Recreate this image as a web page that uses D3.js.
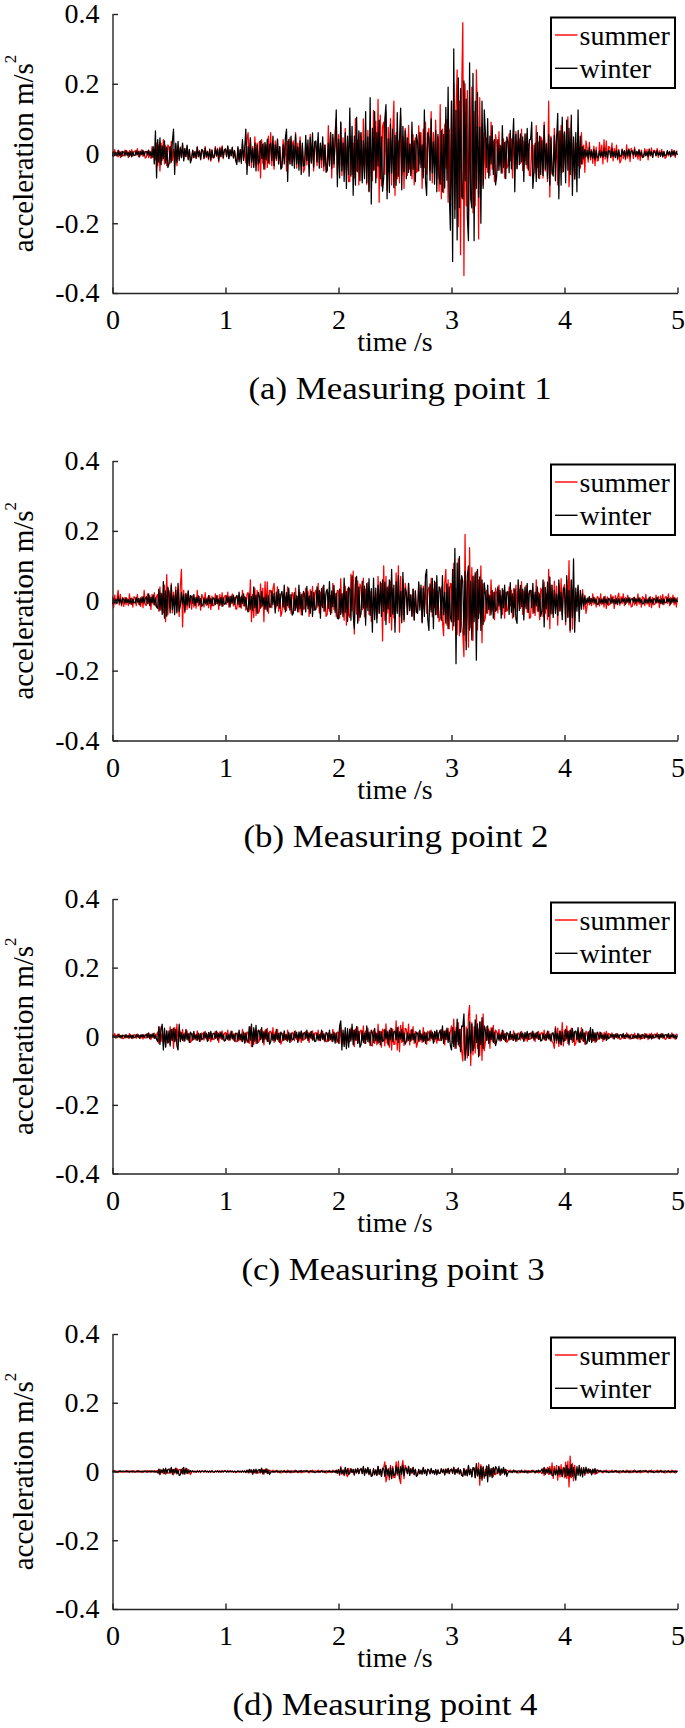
<!DOCTYPE html>
<html><head><meta charset="utf-8">
<script src="https://cdn.jsdelivr.net/npm/d3@7"></script>
<style>html,body{margin:0;padding:0;background:#fff;}svg{display:block;font-family:"Liberation Serif","Times New Roman",serif;}</style>
</head><body><svg id="c" width="685" height="1728"></svg>
<script>
// ---- data ----
const sampleStep = 0.01; // s
const xTicks = [0,1,2,3,4,5];
const xTickLabels = ["0","1","2","3","4","5"];
const yTicks = [-0.4,-0.2,0,0.2,0.4];
const yTickLabels = ["-0.4","-0.2","0","0.2","0.4"];
const seriesNames = ["summer","winter"];
const panelTitles = ["(a) Measuring point 1","(b) Measuring point 2","(c) Measuring point 3","(d) Measuring point 4"];

const summer1 = [
.005,-.008,.011,-.006,.004,-.010,.007,-.012,.006,-.007,
-.006,.010,-.004,.007,-.012,.008,-.005,.011,-.007,.006,
.008,-.005,.014,-.010,.007,-.004,.011,-.008,.006,-.013,
-.010,.007,-.012,.006,-.014,.020,-.010,.012,-.018,.030,
-.035,.025,-.050,.030,-.020,.040,-.030,.022,-.035,.025,
.018,-.028,.035,-.020,.012,-.030,.025,-.035,.020,-.015,
.015,-.010,.025,-.018,.012,-.008,.020,-.015,.010,-.022,
-.016,.010,-.012,.006,-.014,.020,-.010,.008,-.018,.012,
.009,-.015,.020,-.011,.007,-.018,.013,-.022,.011,-.013,
-.012,.020,-.008,.015,-.025,.018,-.010,.022,-.015,.012,
.012,-.008,.020,-.014,.010,-.006,.016,-.012,.008,-.018,
-.024,.015,-.018,.009,-.021,.030,-.015,.012,-.027,.040,
.060,-.030,.045,-.040,.020,-.035,.048,-.025,.030,-.050,
.035,-.070,.040,-.028,.030,-.045,.025,-.040,.050,-.030,
.060,-.035,.025,-.045,.036,-.020,.042,-.030,.020,-.038,
-.025,.040,-.015,.030,-.050,.035,-.020,.045,-.030,.025,
.036,-.024,.060,-.042,.030,-.018,.048,-.036,.024,-.054,
-.044,.028,-.033,.017,-.039,.055,-.028,.022,-.050,.033,
.020,-.035,.045,-.025,.015,-.040,.030,-.050,.025,-.030,
-.050,.080,-.030,.060,-.070,.045,-.040,.065,.100,-.060,
.054,-.036,.090,-.063,.045,-.027,.072,-.054,.036,-.081,
-.080,.050,-.060,.030,-.070,.100,-.050,.040,-.090,.060,
.044,-.077,.099,-.055,.033,-.088,.066,-.110,.055,-.066,
-.078,.124,-.047,.093,-.070,.155,-.140,.110,-.093,.078,
.090,-.060,.120,-.105,.075,-.045,.100,-.090,.060,.150,
-.120,.060,-.072,.036,-.084,.110,-.060,.048,-.100,.072,
.036,-.063,.081,-.045,.027,-.072,.054,-.090,.045,-.054,
-.050,.080,-.030,.060,-.100,.070,-.040,.090,-.060,.050,
.072,-.048,.120,-.084,.060,-.036,.096,-.072,.048,-.108,
.140,-.130,.070,-.112,.084,-.042,.098,-.140,.070,-.110,
.150,-.120,.200,-.160,.130,.240,-.210,.150,-.290,.180,
.375,-.350,.200,-.150,.180,-.220,.160,-.120,.190,-.170,
.120,-.150,.240,.100,-.245,.160,-.100,.080,-.090,.060,
-.072,.045,-.054,.027,-.063,.090,-.045,.036,-.081,.054,
.028,-.049,.063,-.035,.021,-.056,.042,-.070,.035,-.042,
-.035,.056,-.021,.042,-.070,.049,-.028,.063,-.042,.035,
.042,-.028,.070,-.049,.035,-.021,.056,-.042,.028,-.063,
-.064,.040,-.048,.024,-.056,.080,-.040,.032,-.072,.048,
.040,-.070,.090,-.050,.030,-.080,.150,-.125,.050,-.060,
-.045,.072,-.027,.054,-.090,.063,-.036,.081,-.054,.045,
.063,-.042,.060,.105,-.095,-.032,.084,-.063,.042,-.074,
-.048,.030,-.036,.018,-.042,.060,-.030,.024,-.054,.036,
.014,-.025,.032,-.018,.011,-.028,.021,-.035,.018,-.021,
-.020,.032,-.012,.024,-.030,.040,-.016,.036,-.024,.020,
.018,-.012,.030,-.021,.015,-.009,.024,-.018,.012,-.027,
-.020,.013,-.015,.008,-.018,.025,-.013,.010,-.023,.015,
.008,-.014,.018,-.010,.006,-.016,.012,-.020,.010,-.012,
-.009,.014,-.005,.011,-.018,.013,-.007,.016,-.011,.009,
.009,-.006,.015,-.011,.008,-.005,.012,-.009,.006,-.014,
-.010,.006,-.007,.004,-.008,.012,-.006,.005,-.011,.007,
.006];
const winter1 = [
-.008,.005,-.006,.003,-.007,.010,-.005,.004,-.009,.006,
.004,-.007,.009,-.005,.003,-.008,.006,-.010,.005,-.006,
-.005,.008,-.003,.006,-.010,.007,-.004,.009,-.006,.005,
.006,-.004,.010,-.007,.005,-.012,.020,-.030,.065,-.070,
.040,-.025,.045,-.032,.022,-.015,.036,-.027,.018,-.040,
-.030,.020,-.025,.035,.070,-.060,.030,-.025,.035,-.020,
.018,-.012,.030,-.021,.015,-.009,.024,-.018,.012,-.027,
-.014,.009,-.011,.005,-.013,.018,-.009,.007,-.016,.011,
.007,-.013,.016,-.009,.005,-.014,.011,-.018,.009,-.011,
-.010,.016,-.006,.012,-.020,.014,-.008,.018,-.012,.010,
.013,-.009,.022,-.015,.011,-.007,.018,-.013,.009,-.020,
-.032,.020,-.024,.012,-.028,.040,-.020,.016,.070,-.060,
.020,-.035,.045,-.025,.015,-.040,.030,-.050,.025,-.030,
-.023,.036,-.014,.027,-.045,.032,-.018,.041,-.027,.023,
.030,-.020,.050,-.035,.025,-.015,.040,-.030,.020,-.045,
-.040,.025,-.030,.045,.070,-.080,.040,-.030,.050,-.035,
.024,-.042,.054,-.030,.018,-.048,.036,-.060,.030,-.036,
-.033,.052,-.020,.039,-.065,.046,-.026,.059,-.039,.033,
.036,-.024,.060,-.042,.030,-.018,.048,-.036,.024,-.054,
-.048,.030,-.036,.060,-.042,.055,-.030,.024,.125,-.095,
.040,-.070,.090,-.050,.030,-.080,.060,-.100,.050,-.060,
.130,-.065,.078,-.120,.050,-.091,.104,-.052,.065,-.078,
.060,-.084,.036,-.072,.120,-.084,.048,-.108,.160,-.145,
.072,-.048,.120,-.084,.060,-.036,.096,-.072,.048,-.108,
-.070,.098,.140,-.130,.042,-.112,.084,-.056,.070,-.098,
.052,-.091,.117,-.065,.039,.130,-.104,.078,-.052,.065,
-.072,.045,-.054,.027,-.063,.090,-.045,.036,-.081,.054,
.030,-.050,.060,-.040,.025,-.070,.125,-.080,-.120,.060,
.044,-.077,.099,-.055,.033,-.088,.066,-.110,.055,-.066,
-.088,.066,-.110,.055,-.099,.132,-.077,.190,-.110,-.220,
.150,-.310,.300,-.186,.124,-.248,.217,-.155,.186,-.124,
-.130,.208,-.078,.156,-.182,-.250,.260,-.130,-.156,.230,
-.250,.150,-.100,.175,-.125,.075,-.200,.150,-.100,.125,
.060,-.040,.100,-.070,.050,-.030,.080,-.060,.040,-.090,
-.064,.040,-.048,.024,-.056,.080,-.040,.032,-.072,.048,
.033,-.055,.066,-.044,.028,.100,-.110,.055,-.044,.066,
-.032,.056,-.024,.048,-.080,.056,-.032,.072,-.048,.040,
.040,.090,-.100,-.050,.030,-.080,.060,-.070,.050,-.060,
.036,-.063,.081,-.045,.027,-.072,.054,-.090,.045,-.054,
-.065,.052,-.078,.039,.115,-.130,.065,-.091,.104,-.052,
.060,-.084,.096,-.048,.072,-.060,.110,-.120,.048,-.072,
.060,-.110,.125,-.070,.050,-.030,.020,-.015,.012,-.010,
.009,-.015,.018,-.011,.007,-.014,.012,-.018,.008,-.012,
-.012,.008,-.009,.005,-.011,.015,-.008,.006,-.013,.009,
.006,-.011,.014,-.008,.005,-.012,.009,-.015,.008,-.009,
-.007,.011,-.004,.008,-.014,.010,-.006,.013,-.008,.007,
.007,-.005,.012,-.008,.006,-.004,.010,-.007,.005,-.011,
-.010,.006,-.007,.004,-.008,.012,-.006,.005,-.011,.007,
.004,-.007,.009,-.005,.003,-.008,.006,-.010,.005,-.006,
-.005,.008,-.003,.006,-.010,.007,-.004,.009,-.006,.005,
-.004];

const summer2 = [
.012,-.020,.016,-.010,.008,.030,-.012,.018,-.015,.010,
-.016,.010,-.012,.006,-.014,.020,-.010,.008,-.018,.012,
.008,-.014,.018,-.010,.006,-.016,.012,-.020,.030,-.012,
-.013,.020,-.008,.015,-.025,.018,-.010,.023,-.015,.013,
.018,-.030,.040,-.025,.020,-.035,.045,-.060,.075,-.040,
.030,-.020,.050,-.035,.025,-.015,.040,-.030,.020,-.045,
.040,.090,-.075,.030,-.035,.018,-.025,.030,-.020,.015,
-.024,.015,-.018,.009,-.021,.030,-.015,.012,-.027,.018,
.010,-.018,.023,-.013,.008,-.020,.015,-.025,.013,-.015,
-.013,.020,-.008,.015,-.025,.018,-.010,.023,-.015,.013,
.015,-.010,.025,-.018,.013,-.008,.020,-.015,.010,-.023,
-.024,.015,-.018,.009,-.021,.030,-.015,.012,-.027,.018,
.024,-.030,.060,-.060,.018,-.048,.036,-.042,.030,-.036,
-.030,.048,-.018,.036,-.060,.055,-.024,.054,-.036,.030,
.030,-.020,.035,.050,-.025,-.015,.040,-.030,.020,-.045,
-.032,.020,-.024,.012,-.028,.040,-.020,.016,-.036,.024,
.016,-.028,.036,-.020,.012,-.032,.024,-.040,.020,-.024,
-.023,.036,-.014,.027,-.045,.032,-.018,.041,-.027,.023,
.030,-.020,.050,-.035,.025,-.015,.040,-.030,.020,-.045,
-.040,.025,-.030,.015,-.035,.050,-.025,.020,-.045,.030,
.028,-.049,.063,-.035,.021,-.056,.042,-.070,.035,-.042,
-.048,.076,-.029,.085,-.095,.067,-.038,.057,-.057,.048,
.039,-.026,.065,-.046,.033,-.020,.052,-.039,.026,-.059,
-.056,.035,-.042,.021,-.049,.070,-.035,.028,.050,-.115,
.100,-.056,.070,-.035,.042,-.063,.056,-.084,.035,-.049,
-.050,.080,-.030,.100,-.090,.070,-.040,.060,-.060,.050,
.022,-.039,.050,-.028,.017,-.044,.033,-.055,.028,-.033,
-.030,.048,-.018,.036,-.060,.042,-.024,.054,-.036,.030,
.039,-.026,.065,-.046,.033,-.020,.052,-.039,.026,-.059,
-.050,.040,-.060,-.100,.050,.090,-.070,.060,-.080,.050,
.048,-.084,.108,-.060,.036,-.096,.120,-.100,.060,-.072,
-.095,-.160,.190,-.114,.057,-.133,.152,-.076,.095,-.114,
.072,-.048,.084,-.084,.060,-.036,.100,-.120,.048,-.060,
-.048,.030,-.036,.018,-.042,.060,-.030,.024,-.054,.036,
.020,-.035,.045,-.025,.015,-.040,.030,-.050,.025,-.030,
-.025,.040,-.015,.030,-.050,.035,-.020,.045,-.030,.025,
.033,-.022,.055,-.039,.028,-.017,.044,-.033,.022,-.050,
-.048,.030,-.036,.018,-.042,.060,-.030,.024,-.054,.036,
.027,-.045,.054,-.036,.018,-.054,.090,-.080,.045,-.036,
-.035,.056,-.021,.042,-.070,.049,-.028,.063,-.042,.035,
.046,-.069,.058,-.046,.115,-.090,.058,-.081,.035,-.058,
.024,-.016,.040,-.028,.020,-.012,.032,-.024,.016,-.036,
-.016,.010,-.012,.006,-.014,.020,-.010,.008,-.018,.012,
.009,-.015,.020,-.011,.007,-.018,.013,-.022,.011,-.013,
-.011,.018,-.007,.013,-.022,.015,-.009,.010,.022,-.013,
.012,-.008,.020,-.014,.010,-.006,.016,-.012,.008,-.018,
-.016,.010,-.012,.006,-.014,.020,-.010,.008,-.018,.012,
.008,-.014,.018,-.010,.006,-.016,.012,-.020,.010,-.012,
-.010,.016,-.006,.012,-.020,.014,-.008,.018,-.012,.010,
.012,-.008,.020,-.014,.010,-.006,.016,-.012,.008,-.018,
.010];
const winter2 = [
-.010,.006,-.007,.004,-.008,.012,-.006,.005,-.011,.007,
.004,-.007,.009,-.005,.003,-.008,.006,-.010,.005,-.006,
-.006,.010,-.004,.007,-.012,.008,-.005,.011,-.007,.006,
.012,-.008,.020,-.014,.010,-.006,.016,-.012,.008,-.018,
-.022,.033,-.028,.022,-.039,.055,-.050,.028,-.044,.039,
.020,-.035,.045,-.025,.015,-.040,.030,-.035,.050,-.030,
-.015,.024,-.009,.018,-.030,.021,-.012,.027,-.018,.015,
.011,-.007,.018,-.013,.009,-.005,.014,-.011,.007,-.016,
-.012,.008,-.009,.005,-.011,.015,-.008,.006,-.014,.009,
.006,-.011,.014,-.008,.005,-.013,.010,-.016,.008,-.010,
-.009,.014,-.005,.011,-.018,.013,-.007,.016,-.011,.009,
.015,-.010,.025,-.018,.013,-.008,.020,-.015,.010,-.023,
-.032,.020,-.024,.012,-.028,.040,-.020,.016,-.036,.024,
.012,-.021,.027,-.015,.009,-.024,.018,-.030,.015,-.018,
-.018,.028,-.011,.021,-.035,.025,-.014,.032,-.021,.018,
.027,-.018,.045,-.032,.023,-.014,.036,-.027,.018,-.041,
-.036,.023,-.027,.014,-.032,.045,-.023,.018,-.041,.027,
.018,-.032,.041,-.023,.014,-.036,.027,-.045,.023,-.027,
-.025,.040,-.015,.030,-.050,.035,-.020,.045,-.030,.025,
.033,-.022,.055,-.039,.028,-.017,.044,-.033,.022,-.050,
-.052,.033,-.039,.020,-.046,.065,-.033,.026,-.059,.039,
.032,-.056,.072,-.040,-.080,.048,.070,-.064,.040,-.048,
-.035,.056,-.021,.042,-.070,.049,-.028,.063,-.042,.035,
-.090,.065,-.054,.036,-.063,.045,-.036,.054,-.045,.060,
-.030,.053,-.068,.038,-.023,.060,-.045,.090,-.038,.045,
-.090,.054,-.036,.072,-.045,.027,-.063,.081,-.054,.036,
.022,-.039,.050,-.028,.017,-.044,.033,-.055,.028,-.033,
-.036,.054,-.027,.045,-.063,.036,-.045,.072,.090,-.054,
-.085,.048,-.032,.064,-.080,.056,-.040,.072,-.048,.040,
.032,-.056,.072,-.040,.024,-.064,.048,-.080,.040,-.048,
-.060,.090,-.072,.150,-.180,.108,-.054,.126,-.090,.072,
.056,-.098,.084,-.140,.070,.100,-.084,.056,-.112,.070,
-.060,.080,-.170,.090,-.051,.068,-.085,.060,-.068,.051,
.020,-.035,.045,-.025,.015,-.040,.030,-.050,.025,-.030,
-.025,.040,-.015,.030,-.050,.035,-.020,.045,-.030,.025,
.026,-.039,.052,-.033,.020,-.046,.033,-.052,-.065,.060,
-.028,.044,-.017,.033,-.055,.039,-.022,.050,-.033,.028,
.030,-.020,.050,-.035,.025,-.015,.040,-.030,.020,-.045,
-.030,.060,-.075,.038,-.023,.053,-.045,.068,-.038,.045,
-.048,.030,-.036,.018,-.042,.060,-.030,.024,-.054,.036,
.036,-.060,.072,-.048,.030,-.084,.060,-.048,.120,-.090,
.036,-.030,.045,-.060,.030,-.024,.020,-.015,.012,-.010,
.007,-.005,.012,-.008,.006,-.004,.010,-.007,.005,-.011,
-.010,.006,-.007,.004,-.008,.012,-.006,.005,-.011,.007,
.004,-.008,.010,-.006,.003,-.009,.007,-.011,.006,-.007,
-.005,.008,-.003,.006,-.010,.007,-.004,.009,-.006,.005,
.006,-.004,.010,-.007,.005,-.003,.008,-.006,.004,-.009,
-.008,.005,-.006,.003,-.007,.010,-.005,.004,-.009,.006,
.004,-.007,.009,-.005,.003,-.008,.006,-.010,.005,-.006,
-.005,.008,-.003,.006,-.010,.007,-.004,.009,-.006,.005,
-.004];

const summer3 = [
.005,-.003,.008,-.006,.004,-.002,.006,-.005,.003,-.007,
-.006,.004,-.005,.002,-.006,.008,-.004,.003,-.007,.005,
.003,-.006,.007,-.004,.002,-.006,.005,-.008,.004,-.005,
-.005,.008,-.003,.006,-.010,.007,-.004,.009,-.006,.005,
.012,-.021,.027,-.015,.009,-.024,.018,-.030,.015,-.018,
-.018,.028,-.011,.021,-.035,.025,-.014,.035,-.021,.018,
.012,-.008,.020,-.014,.010,-.006,.016,-.012,.008,-.018,
-.013,.008,-.010,.005,-.011,.016,-.008,.006,-.014,.010,
.006,-.011,.014,-.008,.005,-.013,.010,-.016,.008,-.010,
-.009,.014,-.005,.011,-.018,.013,-.007,.016,-.011,.009,
.011,-.007,.018,-.013,.009,-.005,.014,-.011,.007,-.016,
-.016,.010,-.012,.006,-.014,.020,-.010,.008,-.018,.012,
.012,-.021,.027,-.030,.009,-.024,.018,-.021,.015,-.018,
-.013,.020,-.008,.015,-.025,.018,-.010,.023,-.015,.013,
.015,-.010,.025,-.018,.013,-.008,.020,-.015,.010,-.023,
-.014,.009,-.011,.005,-.013,.018,-.009,.007,-.016,.011,
.007,-.013,.016,-.009,.005,-.014,.011,-.018,.009,-.011,
-.009,.014,-.005,.011,-.018,.013,-.007,.016,-.011,.009,
.011,-.007,.018,-.013,.009,-.005,.014,-.011,.007,-.016,
-.016,.010,-.012,.006,-.014,.020,-.010,.008,-.018,.012,
.012,-.021,.027,-.015,.009,-.024,.018,-.030,.015,-.018,
-.015,.024,-.009,.018,-.030,.021,-.012,.027,-.018,.015,
.018,-.012,.030,-.021,.015,-.009,.024,-.018,.012,-.027,
-.028,.018,-.021,.011,-.025,.035,-.018,.014,-.032,.021,
.016,-.028,.036,-.020,.012,-.032,.024,-.040,.020,-.024,
-.023,.045,-.040,.027,-.045,.032,-.018,.041,-.027,.023,
.021,-.014,.035,-.025,.018,-.011,.028,-.021,.014,-.032,
-.020,.013,-.015,.008,-.018,.025,-.013,.010,-.023,.015,
.008,-.014,.018,-.010,.006,-.016,.012,-.020,.010,-.012,
-.013,.020,-.008,.015,-.025,.018,-.010,.023,-.015,.013,
.030,-.020,.050,-.035,.025,-.015,.040,-.030,.020,-.045,
-.072,.045,-.054,.027,-.063,.060,.090,-.085,.040,-.054,
.028,-.049,.063,-.035,.021,-.056,.042,-.070,.065,-.042,
-.018,.028,-.011,.021,-.035,.025,-.014,.032,-.021,.018,
.012,-.008,.020,-.014,.010,-.006,.016,-.012,.008,-.018,
-.013,.008,-.010,.005,-.011,.016,-.008,.006,-.014,.010,
.006,-.011,.014,-.008,.005,-.012,.009,-.015,.008,-.009,
-.008,.012,-.005,.009,-.015,.011,-.006,.014,-.009,.008,
.011,-.007,.018,-.013,.009,-.005,.014,-.011,.007,-.016,
-.020,-.035,.028,-.020,.024,-.030,.016,-.024,.040,-.028,
.018,-.012,.030,-.021,.015,-.009,.024,-.018,.012,-.027,
-.020,.013,-.015,.008,-.018,.025,-.013,.010,-.023,.015,
.007,-.013,.016,-.009,.005,-.014,.011,-.018,.009,-.011,
-.008,.012,-.005,.009,-.015,.011,-.006,.014,-.009,.008,
.006,-.004,.010,-.007,.005,-.003,.008,-.006,.004,-.009,
-.008,.005,-.006,.003,-.007,.010,-.005,.004,-.009,.006,
.004,-.007,.009,-.005,.003,-.008,.006,-.010,.005,-.006,
-.005,.008,-.003,.006,-.010,.007,-.004,.009,-.006,.005,
.006,-.004,.010,-.007,.005,-.003,.008,-.006,.004,-.009,
-.008,.005,-.006,.003,-.007,.010,-.005,.004,-.009,.006,
.004];
const winter3 = [
-.004,.002,-.003,.001,-.004,.006,-.003,.002,-.005,.003,
.002,-.004,.005,-.003,.002,-.005,.004,-.006,.003,-.004,
-.003,.005,-.002,.004,-.006,.004,-.002,.005,-.004,.003,
.006,-.004,.010,-.007,.005,-.003,.008,-.006,.004,-.009,
-.016,.028,-.024,.020,.035,-.040,.024,-.032,.016,-.020,
.016,-.028,.020,-.012,.024,-.016,.020,-.028,-.040,.035,
-.016,.010,-.012,.006,-.014,.020,-.010,.008,-.018,.012,
.006,-.011,.014,-.008,.005,-.012,.009,-.015,.008,-.009,
-.008,.012,-.005,.009,-.015,.011,-.006,.014,-.009,.008,
.009,-.006,.015,-.011,.008,-.005,.012,-.009,.006,-.014,
-.012,.008,-.009,.005,-.011,.015,-.008,.006,-.014,.009,
.008,-.014,.018,-.010,.006,-.016,.012,-.020,.010,-.012,
-.018,.028,-.011,.035,-.030,.025,-.014,.032,-.021,.018,
.015,-.010,.025,-.018,.013,-.008,.020,-.015,.010,-.023,
-.016,.010,-.012,.006,-.014,.020,-.010,.008,-.018,.012,
.007,-.013,.016,-.009,.005,-.014,.011,-.018,.009,-.011,
-.009,.014,-.005,.011,-.018,.013,-.007,.016,-.011,.009,
.011,-.007,.018,-.013,.009,-.005,.014,-.011,.007,-.016,
-.014,.009,-.011,.005,-.013,.018,-.009,.007,-.016,.011,
.008,-.014,.018,-.010,.006,-.016,.012,-.020,.010,-.012,
-.020,.030,.045,-.040,.018,-.030,.025,-.036,.022,-.032,
.021,-.014,.035,-.025,.018,-.011,.028,-.021,.014,-.032,
-.024,.015,-.018,.009,-.021,.030,-.015,.012,-.027,.018,
.010,-.018,.023,-.013,.008,-.020,.015,-.025,.013,-.015,
-.013,.020,-.008,.015,-.025,.018,-.010,.023,-.015,.013,
.015,-.010,.025,-.018,.013,-.008,.020,-.015,.010,-.023,
-.016,.010,-.012,.006,-.014,.020,-.010,.008,-.018,.012,
.008,-.014,.018,-.010,.006,-.016,.012,-.020,.010,-.012,
-.010,.016,-.006,.012,-.020,.014,-.008,.018,-.012,.010,
.018,-.012,.030,-.021,.015,-.009,.024,-.018,.012,-.027,
-.040,.025,-.030,.015,-.035,.050,-.025,.020,-.045,.030,
.028,.065,-.070,-.035,.021,-.056,.042,-.049,.035,-.042,
-.030,.048,-.018,.036,-.060,.042,-.024,.054,-.036,.030,
.018,-.012,.030,-.021,.015,-.009,.024,-.018,.012,-.027,
-.014,.009,-.011,.005,-.013,.018,-.009,.007,-.016,.011,
.006,-.011,.014,-.008,.005,-.012,.009,-.015,.008,-.009,
-.008,.012,-.005,.009,-.015,.011,-.006,.014,-.009,.008,
.009,-.006,.015,-.011,.008,-.005,.012,-.009,.006,-.014,
-.012,.008,-.009,.005,-.011,.015,-.008,.006,-.014,.009,
.010,-.018,.023,-.013,.008,-.020,.015,-.025,.013,-.015,
-.013,.020,-.008,.015,-.025,.018,-.010,.023,-.015,.013,
.015,-.010,.025,-.018,.013,-.008,.020,-.015,.010,-.023,
-.020,.013,-.015,.025,-.018,.020,-.013,.010,-.016,.012,
.005,-.008,.011,-.006,.004,-.010,.007,-.012,.006,-.007,
-.004,.006,-.002,.005,-.008,.006,-.003,.007,-.005,.004,
.005,-.003,.008,-.006,.004,-.002,.006,-.005,.003,-.007,
-.006,.004,-.005,.002,-.006,.008,-.004,.003,-.007,.005,
.003,-.006,.007,-.004,.002,-.006,.005,-.008,.004,-.005,
-.004,.006,-.002,.005,-.008,.006,-.003,.007,-.005,.004,
.005,-.003,.008,-.006,.004,-.002,.006,-.005,.003,-.007,
.003];

const summer4 = [
.002,-.001,.003,-.002,.001,-.003,.002,-.002,.001,-.002,
-.002,.001,-.002,.003,-.002,.002,-.001,.002,-.003,.002,
.001,-.002,.003,-.002,.001,-.002,.002,-.003,.002,-.001,
-.002,.003,-.001,.002,-.003,.002,-.001,.003,-.002,.002,
.003,-.006,.007,-.004,.002,-.006,.005,-.008,.004,-.005,
-.005,.008,-.003,.006,-.010,.007,-.004,.009,-.006,.005,
.006,-.004,.010,-.007,.005,-.003,.008,-.006,.004,-.009,
-.002,.001,-.002,.001,-.002,.003,-.002,.001,-.003,.002,
.001,-.002,.003,-.002,.001,-.002,.002,-.003,.002,-.002,
-.002,.002,-.001,.002,-.003,.002,-.001,.003,-.002,.002,
.002,-.001,.003,-.002,.001,-.001,.002,-.002,.001,-.003,
-.002,.001,-.002,.001,-.002,.003,-.002,.001,-.003,.002,
.002,-.004,.005,-.003,.002,-.005,.004,-.006,.003,-.004,
-.004,.006,-.002,.005,-.008,.006,-.003,.007,-.005,.004,
.002,-.002,.004,-.003,.002,-.001,.003,-.002,.002,-.004,
-.003,.002,-.002,.001,-.003,.004,-.002,.002,-.004,.002,
.002,-.003,.004,-.002,.001,-.003,.002,-.004,.002,-.002,
-.002,.003,-.001,.002,-.004,.003,-.002,.004,-.002,.002,
.002,-.002,.004,-.003,.002,-.001,.003,-.002,.002,-.004,
-.003,.002,-.002,.001,-.003,.004,-.002,.002,-.004,.002,
.006,-.011,.014,-.008,.005,-.012,.009,-.010,-.015,.009,
-.005,.008,-.003,.006,-.010,.007,-.004,.009,-.006,.005,
.007,-.005,.012,-.008,.006,-.004,.010,-.007,.005,-.011,
-.012,.008,-.009,.005,-.011,.015,-.008,.006,-.014,.009,
.012,.028,-.030,-.015,.009,-.024,.018,-.021,.015,-.018,
-.018,.028,-.011,.030,-.021,-.035,.014,.032,-.021,.018,
.009,-.006,.015,-.011,.008,-.005,.012,-.009,.006,-.014,
-.008,.005,-.006,.003,-.007,.010,-.005,.004,-.009,.006,
.003,-.006,.007,-.004,.002,-.006,.005,-.008,.004,-.005,
-.005,.008,-.003,.006,-.010,.007,-.004,.009,-.006,.005,
.007,-.005,.012,-.008,.006,-.004,.010,-.007,.005,-.011,
-.012,.008,-.009,.005,-.011,.015,-.008,.006,-.014,.009,
.010,-.018,.016,-.012,.025,-.040,.020,-.016,.014,-.020,
.006,-.011,.014,-.008,.005,-.012,.009,-.015,.008,-.009,
-.004,.006,-.002,.005,-.008,.006,-.003,.007,-.005,.004,
.002,-.002,.004,-.003,.002,-.001,.003,-.002,.002,-.004,
-.003,.002,-.002,.001,-.003,.004,-.002,.002,-.004,.002,
.002,-.003,.004,-.002,.001,-.003,.002,-.004,.002,-.002,
-.006,.009,-.011,.008,-.005,.012,-.009,.015,-.008,.025,
-.020,.015,-.010,.018,-.025,.013,-.016,.020,-.015,.012,
-.018,.027,-.020,.030,-.045,.045,-.018,.023,-.027,.018,
-.010,.006,-.007,.004,-.008,.012,-.006,.005,-.011,.007,
.003,-.006,.007,-.004,.002,-.006,.005,-.008,.004,-.005,
-.002,.003,-.001,.002,-.004,.003,-.002,.004,-.002,.002,
.002,-.002,.004,-.003,.002,-.001,.003,-.002,.002,-.004,
-.003,.002,-.002,.001,-.003,.004,-.002,.002,-.004,.002,
.002,-.003,.004,-.002,.001,-.003,.002,-.004,.002,-.002,
-.002,.003,-.001,.002,-.004,.003,-.002,.004,-.002,.002,
.002,-.002,.004,-.003,.002,-.001,.003,-.002,.002,-.004,
-.003,.002,-.002,.001,-.003,.004,-.002,.002,-.004,.002,
.001];
const winter4 = [
-.001,.002,-.001,.001,-.002,.001,-.001,.002,-.001,.001,
.001,-.001,.002,-.001,.001,-.002,.001,-.001,.002,-.001,
-.002,.001,-.001,.002,-.001,.001,-.002,.001,-.001,.002,
.001,-.002,.001,-.001,.002,-.001,.001,-.002,.001,-.001,
-.004,.007,-.009,.005,-.003,.008,-.006,.010,-.005,.006,
.007,-.005,.012,-.008,.006,-.004,.010,-.007,.005,-.011,
-.010,.006,-.007,.012,-.008,.010,-.006,.005,-.004,.003,
-.001,.002,-.001,.001,-.002,.001,-.001,.002,-.001,.001,
.001,-.001,.002,-.001,.001,-.002,.001,-.001,.002,-.001,
-.002,.001,-.001,.002,-.001,.001,-.002,.001,-.001,.002,
.001,-.002,.001,-.001,.002,-.001,.001,-.002,.001,-.001,
-.001,.002,-.001,.001,-.002,.001,-.001,.002,-.003,.004,
-.004,.006,-.002,.005,-.008,.006,-.003,.007,-.005,.004,
.006,-.004,.010,-.007,.005,-.003,.008,-.006,.004,-.009,
-.002,.001,-.002,.001,-.002,.003,-.002,.001,-.003,.002,
.001,-.002,.003,-.002,.001,-.002,.002,-.003,.002,-.002,
-.002,.002,-.001,.002,-.003,.002,-.001,.003,-.002,.002,
.002,-.001,.003,-.002,.001,-.001,.002,-.002,.001,-.003,
-.002,.001,-.002,.001,-.002,.003,-.002,.001,-.003,.002,
.001,-.002,.003,-.002,.001,-.002,.002,-.003,.004,-.005,
.005,-.008,.011,-.006,.004,-.010,.012,-.007,.008,-.009,
-.005,.008,-.003,.006,-.010,.007,-.004,.009,-.006,.005,
.009,-.006,.015,-.011,.008,-.005,.012,-.009,.006,-.014,
-.012,.008,-.009,.005,-.011,.015,-.008,.006,-.014,.009,
.008,-.014,.018,-.010,.006,-.016,.012,-.020,.010,-.012,
-.010,.016,-.006,.012,-.020,.014,-.008,.018,-.012,.010,
.009,-.006,.015,-.011,.008,-.005,.012,-.009,.006,-.014,
-.010,.006,-.007,.004,-.008,.012,-.006,.005,-.011,.007,
.004,-.007,.009,-.005,.003,-.008,.006,-.010,.005,-.006,
-.005,.008,-.003,.006,-.010,.007,-.004,.009,-.006,.005,
.007,-.005,.012,-.008,.006,-.004,.010,-.007,.005,-.011,
-.014,.009,-.011,.005,-.013,.018,-.009,.007,-.016,.011,
.010,-.018,.023,-.013,.008,-.020,.015,-.025,.013,-.015,
-.012,.016,-.030,.020,-.015,.009,-.018,.012,-.008,.014,
.009,-.006,.015,-.011,.008,-.005,.012,-.009,.006,-.014,
-.003,.002,-.002,.001,-.003,.004,-.002,.002,-.004,.002,
.002,-.003,.004,-.002,.001,-.003,.002,-.004,.002,-.002,
-.002,.003,-.001,.002,-.004,.003,-.002,.004,-.002,.002,
.007,-.005,.012,-.008,.006,-.004,.010,-.007,.005,-.011,
-.012,.008,-.009,.005,-.011,.015,-.008,.006,-.014,.009,
.010,-.015,.018,-.012,.008,-.016,.020,-.014,.012,-.010,
-.025,.014,-.011,.018,-.013,.009,-.016,.011,-.007,.013,
-.005,.008,-.003,.006,-.010,.007,-.004,.009,-.006,.005,
.002,-.001,.003,-.002,.001,-.001,.002,-.002,.001,-.003,
-.002,.001,-.002,.001,-.002,.003,-.002,.001,-.003,.002,
.001,-.002,.003,-.002,.001,-.002,.002,-.003,.002,-.002,
-.002,.002,-.001,.002,-.003,.002,-.001,.003,-.002,.002,
.002,-.001,.003,-.002,.001,-.001,.002,-.002,.001,-.003,
-.002,.001,-.002,.001,-.002,.003,-.002,.001,-.003,.002,
.001,-.002,.003,-.002,.001,-.002,.002,-.003,.002,-.002,
.001];

const summerSeries = [summer1, summer2, summer3, summer4];
const winterSeries = [winter1, winter2, winter3, winter4];

// ---- layout (not data) ----
const layout = [
  {top: 14,   bottom: 293,    titleX: 400},
  {top: 461,  bottom: 740.5,  titleX: 396},
  {top: 899,  bottom: 1173.5, titleX: 393},
  {top: 1334, bottom: 1609,   titleX: 385}
];
const xLeft = 112.5, xRight = 677.5;
const colors = {summer: "#ff0000", winter: "#000000"};
const axisColor = "#262626";

const svg = d3.select("#c");
svg.append("rect").attr("width",685).attr("height",1728).attr("fill","#fff");
const x = d3.scaleLinear().domain([0,5]).range([xLeft, xRight]);

layout.forEach((L, p) => {
  const y = d3.scaleLinear().domain([-0.4, 0.4]).range([L.bottom, L.top]);
  const g = svg.append("g");

  const line = d3.line().x((d,i) => x(i*sampleStep)).y(d => y(d));
  [[summerSeries[p], colors.summer], [winterSeries[p], colors.winter]].forEach(([vals, col]) => {
    g.append("path").datum(vals).attr("d", line)
      .attr("fill","none").attr("stroke",col).attr("stroke-width",1.25).attr("stroke-linejoin","round");
  });

  const ya = g.append("g").attr("transform",`translate(${xLeft},0)`)
    .call(d3.axisLeft(y).tickValues(yTicks).tickFormat((d,i)=>yTickLabels[i]).tickSizeInner(-5.5).tickSizeOuter(0).tickPadding(13));
  const xa = g.append("g").attr("transform",`translate(0,${L.bottom})`)
    .call(d3.axisBottom(x).tickValues(xTicks).tickFormat((d,i)=>xTickLabels[i]).tickSizeInner(-5.5).tickSizeOuter(0).tickPadding(16.5));
  [ya, xa].forEach(a => {
    a.attr("font-family", null).attr("font-size", null);
    a.select(".domain").attr("stroke", axisColor).attr("stroke-width", 1.4);
    a.selectAll(".tick line").attr("stroke", axisColor).attr("stroke-width", 1.4);
    a.selectAll(".tick text").attr("fill","#000").style("font-size","28px")
      .style("font-family",'"Liberation Serif","Times New Roman",serif');
  });

  g.append("text").attr("x", 395).attr("y", L.bottom + 58).attr("text-anchor","middle")
    .style("font-size","28px").text("time /s");
  const yl = g.append("text").attr("text-anchor","middle")
    .attr("transform",`translate(33,${(L.top+L.bottom)/2}) rotate(-90)`)
    .style("font-size","29px");
  yl.append("tspan").text("acceleration m/s");
  yl.append("tspan").attr("dy",-17).style("font-size","17px").text("2");

  const lg = g.append("g").attr("transform",`translate(0,${L.top})`);
  lg.append("rect").attr("x",551).attr("y",3.5).attr("width",124).attr("height",70.5)
    .attr("fill","#fff").attr("stroke","#000").attr("stroke-width",2);
  seriesNames.forEach((name, k) => {
    const yy = 21 + k*33.3;
    lg.append("line").attr("x1",555).attr("x2",577.5).attr("y1",yy).attr("y2",yy)
      .attr("stroke", colors[name]).attr("stroke-width",1.4);
    lg.append("text").attr("x",579.5).attr("y",yy+10).style("font-size","28px").text(name);
  });

  g.append("text").attr("text-anchor","middle")
    .attr("transform",`translate(${L.titleX},${L.bottom + 106}) scale(1.09,1)`)
    .style("font-size","32px").text(panelTitles[p]);
});
</script></body></html>
